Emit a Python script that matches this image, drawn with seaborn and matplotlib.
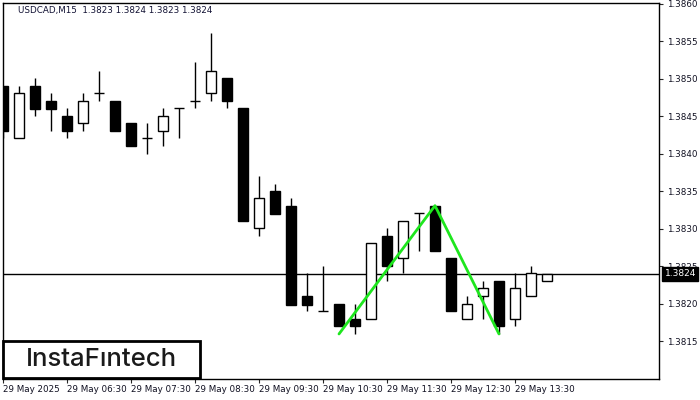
import numpy as np
import pandas as pd
import matplotlib
matplotlib.use("Agg")
import matplotlib.pyplot as plt
from matplotlib.patches import Rectangle
import seaborn as sns

# OHLC for the 35 fifteen-minute candles (05:30 .. 14:00)
opens = [1.38491, 1.38421, 1.38491, 1.38471, 1.38451, 1.38441, 1.38481, 1.38471, 1.38441,
         1.38421, 1.38430, 1.38461, 1.38471, 1.38481, 1.38501, 1.38461, 1.38301, 1.38351,
         1.38331, 1.38211, 1.38190, 1.38200, 1.38180, 1.38180, 1.38291, 1.38261, 1.38321,
         1.38331, 1.38261, 1.38180, 1.38210, 1.38231, 1.38180, 1.38210, 1.38230]
highs = [1.38491, 1.38491, 1.38501, 1.38481, 1.38461, 1.38481, 1.38511, 1.38471, 1.38441,
         1.38441, 1.38461, 1.38461, 1.38522, 1.38561, 1.38501, 1.38461, 1.38371, 1.38360,
         1.38341, 1.38241, 1.38251, 1.38200, 1.38200, 1.38281, 1.38301, 1.38311, 1.38321,
         1.38331, 1.38261, 1.38211, 1.38231, 1.38231, 1.38241, 1.38251, 1.38240]
lows = [1.38421, 1.38421, 1.38450, 1.38430, 1.38421, 1.38430, 1.38471, 1.38430, 1.38410,
        1.38400, 1.38410, 1.38421, 1.38461, 1.38471, 1.38461, 1.38310, 1.38290, 1.38320,
        1.38199, 1.38190, 1.38190, 1.38170, 1.38160, 1.38180, 1.38230, 1.38241, 1.38270,
        1.38270, 1.38190, 1.38180, 1.38180, 1.38160, 1.38170, 1.38210, 1.38230]
closes = [1.38431, 1.38481, 1.38460, 1.38460, 1.38430, 1.38471, 1.38481, 1.38430, 1.38410,
          1.38421, 1.38451, 1.38461, 1.38471, 1.38511, 1.38470, 1.38310, 1.38341, 1.38320,
          1.38199, 1.38199, 1.38190, 1.38170, 1.38170, 1.38281, 1.38250, 1.38311, 1.38321,
          1.38270, 1.38190, 1.38200, 1.38221, 1.38170, 1.38221, 1.38241, 1.38240]

# double top pattern lines
pattern_idx = [21, 27, 31]
pattern_price = [1.38160, 1.38331, 1.38160]

last_price = 1.3824
tick_idx = [0, 4, 8, 12, 16, 20, 24, 28, 32]
tick_labels = ["29 May 2025", "29 May 06:30", "29 May 07:30", "29 May 08:30", "29 May 09:30",
               "29 May 10:30", "29 May 11:30", "29 May 12:30", "29 May 13:30"]
price_ticks = [1.3815, 1.3820, 1.3825, 1.3830, 1.3835, 1.3840, 1.3845, 1.3850, 1.3855, 1.3860]

df = pd.DataFrame({"open": opens, "high": highs, "low": lows, "close": closes})
df["idx"] = np.arange(len(df))

sns.set_style("white")
plt.rcParams["font.family"] = ["DejaVu Sans"]

fig = plt.figure(figsize=(7, 4), dpi=100)
ax = fig.add_axes([2.5 / 700, 21 / 400, 656.5 / 700, 376 / 400])

# wicks
ax.vlines(df.idx, df.low, df.high, color="black", lw=1, zorder=2)
# bodies
up = df.close > df.open
down = df.close < df.open
flat = df.close == df.open
w = 0.68
ax.bar(df.idx[up], (df.close - df.open)[up], bottom=df.open[up], width=w,
       color="white", edgecolor="black", lw=1, zorder=3)
ax.bar(df.idx[down], (df.open - df.close)[down], bottom=df.close[down], width=w,
       color="black", edgecolor="black", lw=1, zorder=3)
ax.hlines(df.close[flat], df.idx[flat] - w / 2, df.idx[flat] + w / 2, color="black", lw=1, zorder=3)

# current price line
ax.axhline(last_price, color="black", lw=1, zorder=1)

# pattern
sns.lineplot(x=pattern_idx, y=pattern_price, color="#1ee61e", lw=2, ax=ax, zorder=4,
             sort=False, estimator=None)

ax.set_xlim(-0.03, 41)
ax.set_ylim(1.38100, 1.38601)

ax.yaxis.tick_right()
ax.set_yticks(price_ticks)
ax.set_yticklabels([f"{p:.4f}" for p in price_ticks], fontsize=6.3, color="#111122")
ax.set_xticks(tick_idx)
ax.set_xticklabels(tick_labels, fontsize=6.3, ha="left", color="#111122")
ax.tick_params(axis="y", direction="out", length=3, width=0.8, pad=3, right=True, left=False)
ax.tick_params(axis="x", direction="out", length=3, width=0.8, pad=1.5, bottom=True)
for s in ax.spines.values():
    s.set_color("black")
    s.set_linewidth(1)
ax.set_xlabel("")
ax.set_ylabel("")

# current price box
ax.annotate(f"{last_price:.4f}", xy=(1, last_price), xycoords=("axes fraction", "data"),
            xytext=(4, 0), textcoords="offset points", ha="left", va="center",
            fontsize=6.5, color="white",
            bbox=dict(boxstyle="square,pad=0.25", fc="black", ec="black"), zorder=10,
            annotation_clip=False)

fig.text(18 / 700, 1 - 11 / 400, "USDCAD,M15  1.3823 1.3824 1.3823 1.3824",
         fontsize=6.3, color="#111133", va="center", ha="left")

# logo
fig.add_artist(Rectangle((3 / 700, 22 / 400), 197 / 700, 37 / 400, transform=fig.transFigure,
                         fc="white", ec="black", lw=2, zorder=20))
fig.text(101 / 700, 41 / 400, "InstaFıntech", fontsize=18.5, family=["Inter", "DejaVu Sans"],
         fontweight="medium", color="#1a1a1a", ha="center", va="center", zorder=21)

fig.savefig("out.png", dpi=100)
